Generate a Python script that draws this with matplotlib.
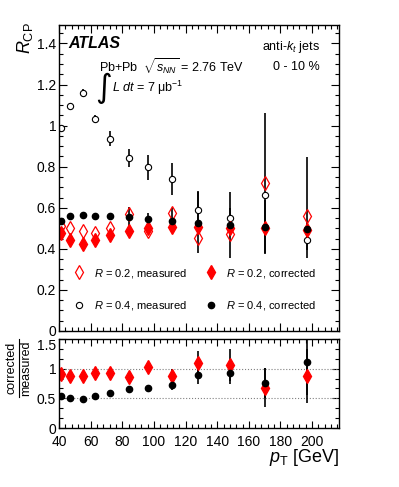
import matplotlib
matplotlib.use("Agg")
import matplotlib.pyplot as plt
from matplotlib.ticker import MultipleLocator, FormatStrFormatter
from matplotlib.lines import Line2D

plt.rcParams["font.family"] = ["Liberation Sans", "DejaVu Sans"]
plt.rcParams["mathtext.fontset"] = "custom"
plt.rcParams["mathtext.rm"] = "Liberation Sans"
plt.rcParams["mathtext.it"] = "Liberation Sans:italic"
plt.rcParams["mathtext.bf"] = "Liberation Sans:bold"

# jet pT bin centres [GeV]
pt = [41, 47, 55, 63, 72.5, 84, 96.5, 111.5, 128, 148, 170, 196.5]

# R_CP, 0-10 %
r02_meas = [0.512, 0.503, 0.488, 0.476, 0.500, 0.572, 0.488, 0.577, 0.455, 0.471, 0.720, 0.561]
r02_corr = [0.477, 0.442, 0.426, 0.444, 0.468, 0.488, 0.500, 0.504, 0.504, 0.502, 0.500, 0.493]
r04_meas = [0.990, 1.094, 1.160, 1.033, 0.937, 0.842, 0.797, 0.740, 0.590, 0.548, 0.660, 0.444]
r04_corr = [0.535, 0.561, 0.566, 0.561, 0.558, 0.555, 0.546, 0.538, 0.528, 0.517, 0.506, 0.496]

r04_meas_lo = [0.01, 0.01, 0.02, 0.02, 0.035, 0.045, 0.06, 0.08, 0.09, 0.05, 0.28, 0.05]
r04_meas_hi = [0.01, 0.01, 0.02, 0.02, 0.035, 0.045, 0.06, 0.08, 0.09, 0.05, 0.40, 0.05]
r04_corr_lo = [0.01, 0.01, 0.01, 0.01, 0.01, 0.05, 0.03, 0.06, 0.15, 0.16, 0.13, 0.14]
r04_corr_hi = [0.01, 0.01, 0.01, 0.01, 0.01, 0.05, 0.03, 0.06, 0.15, 0.16, 0.13, 0.35]

# corrected / measured
ratio02 = [0.918, 0.870, 0.875, 0.934, 0.934, 0.852, 1.020, 0.877, 1.100, 1.057, 0.680, 0.877]
ratio04 = [0.537, 0.510, 0.484, 0.537, 0.588, 0.653, 0.681, 0.726, 0.890, 0.934, 0.760, 1.110]
ratio02_err = [0, 0, 0, 0, 0, 0, 0, 0.12, 0.19, 0.27, 0.33, 0.45]
ratio04_err = [0, 0, 0, 0, 0, 0, 0, 0.08, 0.14, 0.19, 0.25, 0.55]
ratio_ticks = [0, 0.5, 1.0, 1.5]

W, H = 399, 487
fig = plt.figure(figsize=(W / 100, H / 100), dpi=100)
ax1 = fig.add_axes([59 / W, 1 - 331 / H, 280 / W, 306 / H])
ax2 = fig.add_axes([59 / W, 1 - 428 / H, 280 / W, 89 / H])

DMS = 7     # diamond size
CMS = 4.5   # circle size


def style_axis(ax):
    ax.tick_params(which="both", direction="in", top=True, right=True,
                   labelsize=10, width=0.8, pad=2)
    ax.tick_params(which="major", length=6)
    ax.tick_params(which="minor", length=3)
    for s in ax.spines.values():
        s.set_linewidth(1.0)
    ax.set_xlim(40, 217)
    ax.xaxis.set_major_locator(MultipleLocator(20))
    ax.xaxis.set_minor_locator(MultipleLocator(4))
    ax.yaxis.set_major_formatter(FormatStrFormatter("%g"))


# ---- top panel
ebar = dict(fmt="none", ecolor="black", elinewidth=1.2, capsize=0)
ax1.errorbar(pt, r04_meas, yerr=[r04_meas_lo, r04_meas_hi], **ebar)
ax1.errorbar(pt, r04_corr, yerr=[r04_corr_lo, r04_corr_hi], **ebar)

ax1.plot(pt, r02_meas, "d", ms=DMS, mfc="none", mec="red", mew=0.9, ls="none")
ax1.plot(pt, r04_meas, "o", ms=CMS, mfc="white", mec="black", mew=0.8, ls="none")
ax1.plot(pt, r02_corr, "d", ms=DMS, mfc="red", mec="red", ls="none")
ax1.plot(pt, r04_corr, "o", ms=CMS, mfc="black", mec="black", ls="none")

style_axis(ax1)
ax1.set_ylim(0, 1.49)
ax1.yaxis.set_major_locator(MultipleLocator(0.2))
ax1.yaxis.set_minor_locator(MultipleLocator(0.05))
ax1.tick_params(labelbottom=False)

handles = [
    Line2D([], [], marker="d", ms=DMS, mfc="none", mec="red", mew=0.9, ls="none"),
    Line2D([], [], marker="o", ms=CMS, mfc="white", mec="black", mew=0.8, ls="none"),
    Line2D([], [], marker="d", ms=DMS, mfc="red", mec="red", ls="none"),
    Line2D([], [], marker="o", ms=CMS, mfc="black", mec="black", ls="none"),
]
labels = ["$R$ = 0.2, measured", "$R$ = 0.4, measured",
          "$R$ = 0.2, corrected", "$R$ = 0.4, corrected"]
ax1.legend(handles, labels, ncol=2, frameon=False, fontsize=8,
           loc="upper left", bbox_to_anchor=(0.05, 0.21), borderaxespad=0,
           borderpad=0, handlelength=1.0, handletextpad=0.9,
           columnspacing=1.6, labelspacing=1.75)

ax1.text(0.032, 0.941, "ATLAS", transform=ax1.transAxes, fontsize=11.5,
         fontweight="bold", fontstyle="italic", va="center", ha="left")
ax1.text(0.143, 0.864, r"Pb+Pb  $\sqrt{s_{NN}}$ = 2.76 TeV",
         transform=ax1.transAxes, fontsize=9, va="center", ha="left")
ax1.text(0.128, 0.792, "\u222b", transform=ax1.transAxes, fontsize=23,
         family="DejaVu Sans", va="center", ha="left")
ax1.text(0.19, 0.794, r"$L\ dt$ = 7 $\mathrm{\mu}$b$^{-1}$",
         transform=ax1.transAxes, fontsize=9, va="center", ha="left")
ax1.text(0.932, 0.929, r"anti-$k_{t}$ jets", transform=ax1.transAxes,
         fontsize=9, va="center", ha="right")
ax1.text(0.932, 0.864, "0 - 10 %", transform=ax1.transAxes,
         fontsize=9, va="center", ha="right")

fig.text(25 / W, 1 - 22 / H, r"$R_{\mathrm{CP}}$", rotation=90, fontsize=13,
         ha="center", va="top")

# ---- bottom panel
ax2.axhline(1.0, color="gray", ls=":", lw=0.8)
ax2.axhline(0.5, color="gray", ls=":", lw=0.8)
ax2.errorbar(pt, ratio02, yerr=ratio02_err, **ebar)
ax2.errorbar(pt, ratio04, yerr=ratio04_err, **ebar)
ax2.plot(pt, ratio02, "d", ms=DMS, mfc="red", mec="red", ls="none")
ax2.plot(pt, ratio04, "o", ms=CMS, mfc="black", mec="black", ls="none")

style_axis(ax2)
ax2.tick_params(which="major", length=5)
ax2.tick_params(axis="x", pad=5)
ax2.set_ylim(0, 1.5)
ax2.set_yticks(ratio_ticks)
ax2.yaxis.set_minor_locator(MultipleLocator(0.5 / 3))
# keep the top "1.5" clear of the upper panel's "0"
ax2.get_yticklabels()[-1].set_va("top")

# fraction label "corrected / measured"
fig.text(12 / W, 1 - 368 / H, "corrected", rotation=90, fontsize=9,
         ha="center", va="center")
fig.text(26.5 / W, 1 - 368 / H, "measured", rotation=90, fontsize=9,
         ha="center", va="center")
fig.add_artist(Line2D([18.5 / W, 18.5 / W], [1 - 339 / H, 1 - 397 / H],
                      color="black", lw=0.8))

fig.text(339 / W, 1 - 458 / H, r"$p_{\mathrm{T}}$ [GeV]", fontsize=13,
         ha="right", va="center")

fig.savefig("out.png", dpi=100)
